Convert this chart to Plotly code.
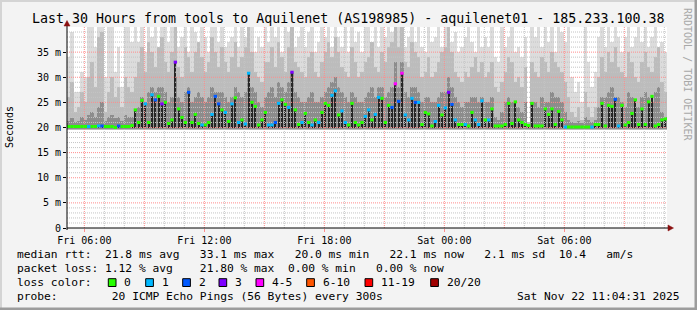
import numpy as np
import pandas as pd
import plotly.graph_objects as go

# ---------------- data (10-minute bins, 30 hours) ----------------
start = pd.Timestamp("2025-11-21 05:08:00")
end = start + pd.Timedelta(hours=30)
BIN = pd.Timedelta(minutes=10)

# top of the light smoke (ms)
smoke_max = [
    34, 39, 27, 27, 31, 30, 40, 40, 36, 40,
    40, 30, 40, 40, 31, 36, 28, 40, 40, 37,
    40, 37, 40, 35, 40, 38, 40, 36, 40, 40,
    37, 40, 40, 36, 38, 40, 35, 40, 39, 36,
    40, 38, 35, 40, 40, 37, 40, 36, 37, 38,
    40, 36, 40, 38, 40, 40, 35, 38, 36, 40,
    37, 40, 38, 40, 35, 40, 39, 40, 36, 38,
    40, 36, 39, 40, 35, 37, 40, 38, 40, 36,
    40, 38, 36, 40, 35, 40, 37, 39, 35, 40,
    40, 37, 40, 36, 40, 38, 40, 39, 40, 40,
    40, 36, 38, 40, 37, 40, 36, 35, 40, 37,
    38, 40, 36, 40, 40, 37, 39, 35, 36, 38,
    40, 37, 35, 40, 36, 38, 36, 40, 34, 33,
    40, 36, 38, 40, 35, 36, 34, 38, 21, 40,
    38, 40, 36, 40, 37, 40, 35, 40, 39, 37,
    40, 30, 27, 29, 25, 40, 33, 28, 31, 38,
    40, 36, 40, 37, 40, 38, 35, 38, 40, 36,
    38, 40, 37, 40, 36, 38, 40, 35, 37, 35,
]
# top of the medium smoke (ms)
smoke_upper = [
    26, 29, 23, 24, 27, 25, 30, 33, 28, 38,
    39, 23, 27, 30, 26, 28, 24, 30, 28, 27,
    30, 33, 36, 31, 37, 35, 32, 36, 38, 33,
    31, 35, 40, 32, 30, 36, 34, 31, 35, 37,
    34, 31, 33, 38, 35, 32, 36, 33, 31, 34,
    37, 32, 34, 36, 40, 35, 31, 30, 29, 33,
    33, 36, 32, 37, 34, 31, 36, 40, 33, 32,
    31, 30, 34, 35, 31, 30, 33, 35, 37, 34,
    38, 35, 32, 31, 30, 36, 33, 30, 31, 33,
    34, 37, 32, 31, 35, 33, 36, 37, 40, 36,
    40, 33, 32, 37, 35, 34, 30, 31, 34, 30,
    31, 33, 35, 36, 40, 35, 31, 30, 29, 31,
    30, 32, 34, 31, 33, 30, 31, 33, 28, 27,
    29, 31, 34, 33, 29, 30, 28, 32, 21, 33,
    31, 30, 34, 33, 31, 35, 33, 32, 31, 29,
    26, 23, 22, 24, 21.5, 27, 24, 22, 24, 30,
    34, 31, 35, 33, 36, 32, 31, 30, 35, 33,
    30, 29, 33, 35, 32, 31, 34, 36, 29, 27,
]
# top of the dark smoke band (ms)
smoke_mid = [
    21.2, 21.8, 21.0, 21.2, 22.0, 21.5, 22.5, 23.0, 22.0, 24.0,
    25.0, 21.2, 22.0, 22.5, 21.8, 22.0, 21.2, 22.5, 22.0, 22.0,
    23.5, 24.0, 26.0, 25.0, 27.0, 28.0, 27.0, 28.0, 28.0, 27.0,
    25.0, 26.0, 30.0, 26.0, 25.0, 27.0, 28.0, 25.0, 26.0, 27.0,
    26.0, 25.0, 26.0, 28.0, 27.0, 27.0, 27.0, 26.0, 25.0, 26.0,
    28.0, 27.0, 26.0, 27.0, 31.0, 28.0, 27.0, 25.0, 24.0, 26.0,
    27.0, 28.0, 26.0, 29.0, 28.0, 27.0, 29.0, 31.0, 27.0, 26.0,
    25.0, 25.0, 26.0, 27.0, 25.0, 25.0, 26.0, 27.0, 28.0, 29.0,
    30.0, 28.0, 27.0, 26.0, 25.0, 27.0, 26.0, 25.0, 25.0, 26.0,
    27.0, 28.0, 26.0, 28.0, 28.0, 26.0, 27.0, 28.0, 33.0, 28.0,
    33.0, 27.0, 26.0, 28.0, 28.0, 27.0, 25.0, 26.0, 26.0, 25.0,
    25.0, 26.0, 27.0, 27.0, 30.0, 28.0, 26.0, 25.0, 24.0, 25.0,
    25.0, 26.0, 26.0, 25.0, 26.0, 25.0, 25.0, 26.0, 22.0, 21.5,
    23.0, 25.0, 26.0, 25.0, 24.0, 24.0, 23.0, 25.0, 20.5, 25.0,
    25.0, 24.0, 26.0, 25.0, 25.0, 27.0, 26.0, 26.0, 25.0, 23.0,
    21.5, 21.0, 20.8, 21.2, 20.8, 22.0, 21.5, 21.0, 21.5, 24.0,
    26.0, 26.0, 27.0, 28.0, 26.0, 26.0, 25.0, 24.0, 27.0, 26.0,
    24.0, 24.0, 26.0, 27.0, 26.0, 25.0, 27.0, 28.0, 23.0, 22.0,
]
# median rtt (ms)
median = [
    20.2, 20.2, 20.2, 20.2, 20.2, 20.2, 20.2, 20.2, 20.2, 20.3,
    20.3, 20.2, 20.2, 20.2, 20.0, 20.3, 20.2, 20.2, 20.2, 20.4,
    23.5, 21.0, 25.4, 24.7, 21.0, 26.5, 25.5, 26.2, 24.7, 25.0,
    20.8, 21.5, 33.0, 23.7, 22.0, 21.0, 27.0, 21.0, 22.6, 20.8,
    20.5, 20.5, 21.0, 22.6, 26.2, 24.7, 23.5, 23.0, 21.2, 24.7,
    25.9, 21.0, 21.5, 20.7, 30.8, 25.0, 24.2, 20.5, 21.5, 23.0,
    20.5, 20.5, 21.0, 24.8, 25.5, 24.6, 24.0, 31.0, 23.5, 20.6,
    21.0, 22.8, 21.0, 20.5, 21.5, 21.0, 23.0, 24.8, 24.4, 26.4,
    27.3, 22.5, 23.3, 21.0, 20.5, 24.8, 21.0, 20.5, 21.0, 22.2,
    23.5, 21.5, 22.6, 26.0, 25.8, 21.0, 24.4, 24.0, 28.7, 25.2,
    30.8, 22.5, 21.5, 25.8, 25.0, 25.0, 20.6, 23.0, 22.7, 20.3,
    21.2, 24.4, 22.5, 23.9, 27.0, 24.6, 21.5, 20.6, 20.6, 20.6,
    20.3, 23.0, 21.5, 20.6, 25.3, 21.5, 21.5, 23.7, 20.3, 20.3,
    20.3, 20.6, 24.8, 20.8, 25.1, 21.5, 21.0, 20.6, 20.4, 24.8,
    20.3, 20.3, 20.3, 23.7, 22.6, 23.7, 20.6, 23.2, 21.5, 20.1,
    20.1, 20.1, 20.1, 20.1, 20.1, 20.1, 20.1, 20.1, 20.6, 20.6,
    24.8, 20.3, 24.4, 24.2, 25.6, 20.3, 24.4, 20.5, 21.0, 22.8,
    25.5, 20.6, 23.7, 20.6, 25.1, 26.2, 20.3, 20.6, 21.5, 21.7,
]
# lost pings out of 20
loss = [
    0, 0, 0, 0, 0, 0, 1, 0, 0, 1,
    2, 0, 0, 0, 0, 2, 0, 0, 0, 0,
    0, 0, 0, 1, 0, 1, 2, 0, 3, 0,
    0, 0, 3, 0, 0, 0, 2, 0, 0, 0,
    1, 0, 0, 1, 2, 2, 0, 1, 0, 1,
    0, 1, 0, 1, 1, 0, 0, 0, 0, 0,
    1, 1, 2, 1, 0, 0, 1, 3, 0, 0,
    1, 0, 0, 1, 0, 1, 0, 0, 0, 1,
    1, 0, 1, 1, 0, 0, 0, 0, 0, 1,
    1, 0, 1, 1, 0, 0, 0, 2, 4, 2,
    4, 1, 1, 1, 2, 1, 0, 0, 0, 0,
    1, 1, 0, 1, 3, 2, 1, 0, 0, 1,
    0, 0, 1, 1, 1, 0, 1, 0, 0, 0,
    0, 0, 0, 0, 0, 0, 0, 0, 0, 0,
    0, 0, 0, 0, 0, 0, 0, 0, 0, 1,
    0, 0, 0, 0, 0, 0, 0, 1, 0, 0,
    0, 0, 0, 0, 2, 1, 0, 0, 0, 0,
    0, 0, 0, 0, 0, 0, 0, 0, 0, 0,
]

tick_times = ["2025-11-21 06:00", "2025-11-21 12:00", "2025-11-21 18:00",
              "2025-11-22 00:00", "2025-11-22 06:00"]
tick_labels = ["Fri 06:00", "Fri 12:00", "Fri 18:00", "Sat 00:00", "Sat 06:00"]
y_tickvals = [0, 5, 10, 15, 20, 25, 30, 35]
y_ticklabels = ["0", "5 m", "10 m", "15 m", "20 m", "25 m", "30 m", "35 m"]

loss_buckets = [(0, 0, "#26ff00", "0"), (1, 1, "#00b8ff", "1"), (2, 2, "#0059ff", "2"),
                (3, 3, "#7e00ff", "3"), (4, 5, "#ff00ff", "4-5"), (6, 10, "#ff5500", "6-10"),
                (11, 19, "#ff0000", "11-19"), (20, 20, "#a00000", "20/20")]

title = "Last 30 Hours from tools to Aquilenet (AS198985) - aquilenet01 - 185.233.100.38"
legend_rtt = "median rtt:  21.8 ms avg   33.1 ms max   20.0 ms min   22.1 ms now   2.1 ms sd  10.4   am/s"
legend_loss = "packet loss: 1.12 % avg    21.80 % max  0.00 % min   0.00 % now"
legend_probe = "probe:        20 ICMP Echo Pings (56 Bytes) every 300s"
stamp = "Sat Nov 22 11:04:31 2025"

# ---------------- geometry ----------------
W, H = 697, 310
PL, PR, PT, PB = 67, 30, 27, 82
PW = W - PL - PR
PH = H - PT - PB
FONT = "DejaVu Sans Mono"


def X(px):
    return (px - PL) / PW


def Y(py):
    return (PT + PH - py) / PH


def fmt(t):
    return pd.Timestamp(t).strftime("%Y-%m-%d %H:%M:%S")


n = len(median)
assert len(smoke_max) == n and len(smoke_upper) == n and len(smoke_mid) == n and len(loss) == n
bin_start = [start + i * BIN for i in range(n)]
bin_center = [fmt(t + BIN / 2) for t in bin_start]
WIDTH_MS = BIN.total_seconds() * 1000

fig = go.Figure()
FLOOR = 19.6


def smoke(top, base, color, frac=1.0):
    fig.add_trace(go.Bar(x=bin_center, y=[max(v - base, 0) for v in top], base=base,
                         width=WIDTH_MS * frac, marker=dict(color=color, line=dict(width=0)),
                         hoverinfo="skip", showlegend=False))


smoke(smoke_max, FLOOR, "#dcdcdc")
smoke(smoke_upper, FLOOR, "#bcbcbc")
smoke(smoke_mid, 19.8, "#8c8c8c")
smoke(median, 20.0, "#262626", frac=0.55)

# grid (drawn above the smoke, like rrdtool)
minor_x, minor_y, major_x, major_y = [], [], [], []
for v in range(1, 40):
    tx, ty = (major_x, major_y) if v % 5 == 0 else (minor_x, minor_y)
    tx += [fmt(start), fmt(end), None]
    ty += [v, v, None]
h = start.ceil("h")
while h < end:
    tx, ty = (major_x, major_y) if h.hour % 3 == 0 else (minor_x, minor_y)
    tx += [fmt(h), fmt(h), None]
    ty += [0, 40, None]
    h += pd.Timedelta(hours=1)
fig.add_trace(go.Scatter(x=minor_x, y=minor_y, mode="lines", hoverinfo="skip", showlegend=False,
                         line=dict(color="#c4c4c4", width=1, dash="1px,1px")))
fig.add_trace(go.Scatter(x=major_x, y=major_y, mode="lines", hoverinfo="skip", showlegend=False,
                         line=dict(color="#ff8c8c", width=1, dash="1px,1px")))

# median, coloured by loss
for lo, hi, col, lab in loss_buckets:
    xs, ys = [], []
    for i in range(n):
        if lo <= loss[i] <= hi:
            xs += [fmt(bin_start[i]), fmt(bin_start[i] + BIN), None]
            ys += [median[i], median[i], None]
    if xs:
        fig.add_trace(go.Scatter(x=xs, y=ys, mode="lines", hoverinfo="skip", showlegend=False,
                                 line=dict(color=col, width=3)))

# ---------------- annotations ----------------
anns = []


def txt(s, px, py, size=11.26, anchor="left", color="#000000", angle=0, yanchor="middle"):
    anns.append(dict(text=s.replace(" ", "\u00a0"), x=X(px), y=Y(py), xref="paper", yref="paper",
                     xanchor=anchor, yanchor=yanchor, showarrow=False, textangle=angle,
                     font=dict(family=FONT, size=size, color=color)))


txt(title, 348, 18.5, size=13.3, anchor="center")
txt(legend_rtt, 15, 254.5)
txt(legend_loss, 15, 268.5)
txt("loss color:", 15, 282.5)
txt(legend_probe, 15, 296.5)
txt(stamp, 682, 296.5, anchor="right")
txt("Seconds", 10, 127, size=10, anchor="center", angle=-90)
txt("RRDTOOL / TOBI OETIKER", 688, 74, size=10, anchor="center", angle=90, color="#a8a8a8")

shapes = []
sq_left = [108.3, 145.7, 182.7, 219, 256, 306.7, 365, 430.7]
for (lo, hi, col, lab), sx in zip(loss_buckets, sq_left):
    shapes.append(dict(type="rect", xref="paper", yref="paper", x0=X(sx), x1=X(sx + 7.7),
                       y0=Y(286.5), y1=Y(278.7), fillcolor=col, line=dict(color="#000000", width=1)))
    txt(lab, sx + 14, 282.5)

# axes lines and arrows
shapes.append(dict(type="line", xref="paper", yref="paper", x0=X(67), x1=X(669), y0=Y(228), y1=Y(228),
                   line=dict(color="#000000", width=1)))
shapes.append(dict(type="line", xref="paper", yref="paper", x0=X(67), x1=X(67), y0=Y(230), y1=Y(24),
                   line=dict(color="#000000", width=1)))


def tri(pts, col="#8b1010"):
    path = "M " + " L ".join(f"{X(a)},{Y(b)}" for a, b in pts) + " Z"
    shapes.append(dict(type="path", xref="paper", yref="paper", path=path, fillcolor=col,
                       line=dict(color=col, width=0.5)))


tri([(668, 225), (673.5, 228), (668, 231)])
tri([(64, 26), (67, 20.5), (70, 26)])

# outer frame
shapes.append(dict(type="rect", xref="paper", yref="paper", x0=X(0), x1=X(697), y0=Y(2), y1=Y(0),
                   fillcolor="#d4d4d4", line=dict(width=0), layer="above"))
shapes.append(dict(type="rect", xref="paper", yref="paper", x0=X(0), x1=X(2), y0=Y(310), y1=Y(0),
                   fillcolor="#d4d4d4", line=dict(width=0), layer="above"))
shapes.append(dict(type="rect", xref="paper", yref="paper", x0=X(0), x1=X(697), y0=Y(310), y1=Y(307.5),
                   fillcolor="#9c9c9c", line=dict(width=0), layer="above"))
shapes.append(dict(type="rect", xref="paper", yref="paper", x0=X(694.5), x1=X(697), y0=Y(310), y1=Y(0),
                   fillcolor="#9c9c9c", line=dict(width=0), layer="above"))

fig.update_layout(
    width=W, height=H, autosize=False,
    margin=dict(l=PL, r=PR, t=PT, b=PB, pad=0),
    paper_bgcolor="#f3f3f3", plot_bgcolor="#ffffff",
    barmode="overlay", bargap=0, showlegend=False, hovermode=False,
    font=dict(family=FONT, size=10, color="#000000"),
    annotations=anns, shapes=shapes,
    xaxis=dict(type="date", range=[fmt(start), fmt(end)], showgrid=False, zeroline=False,
               showline=False, tickvals=tick_times, ticktext=tick_labels, ticks="outside",
               ticklen=3, tickcolor="#ff8c8c", tickfont=dict(family=FONT, size=10, color="#000000"),
               automargin=False, fixedrange=True),
    yaxis=dict(range=[0, 40], showgrid=False, zeroline=False, showline=False,
               tickvals=y_tickvals, ticktext=y_ticklabels, ticks="outside", ticklen=3,
               tickcolor="#000000", tickfont=dict(family=FONT, size=10, color="#000000"),
               automargin=False, fixedrange=True),
)

fig.write_html("out.html", config={"displayModeBar": False, "staticPlot": True})
